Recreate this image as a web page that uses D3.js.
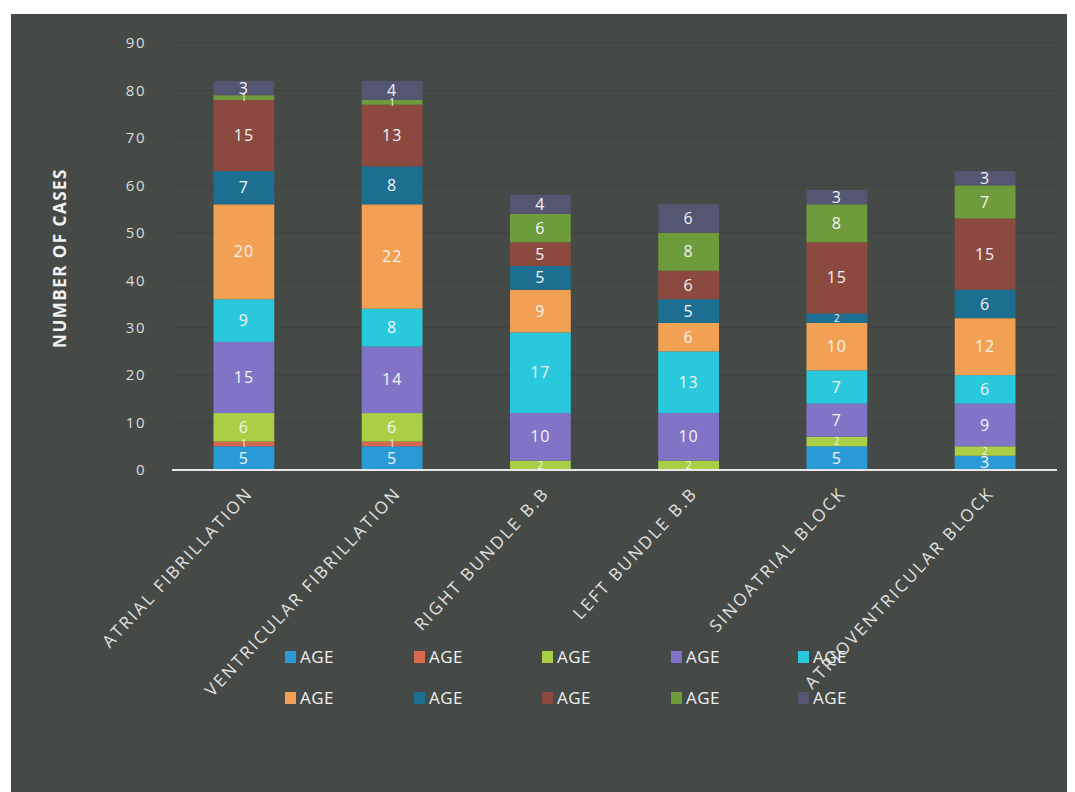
<!DOCTYPE html>
<html>
<head>
<meta charset="utf-8">
<script src="https://cdn.jsdelivr.net/npm/d3@7"></script>
<style>
  html, body { margin: 0; padding: 0; background: #ffffff; }
  svg { display: block; }
  text { font-family: "Open Sans", "DejaVu Sans", sans-serif; }
</style>
</head>
<body>
<svg id="chart" width="1075" height="792"></svg>
<script>
// ---- data ----
const categories = ["ATRIAL FIBRILLATION", "VENTRICULAR FIBRILLATION", "RIGHT BUNDLE B.B", "LEFT BUNDLE B.B", "SINOATRIAL BLOCK", "ATRIOVENTRICULAR BLOCK"];
const seriesNames = ["AGE", "AGE", "AGE", "AGE", "AGE", "AGE", "AGE", "AGE", "AGE", "AGE"];
const age1  = [5, 5, 0, 0, 5, 3];
const age2  = [1, 1, 0, 0, 0, 0];
const age3  = [6, 6, 2, 2, 2, 2];
const age4  = [15, 14, 10, 10, 7, 9];
const age5  = [9, 8, 17, 13, 7, 6];
const age6  = [20, 22, 9, 6, 10, 12];
const age7  = [7, 8, 5, 5, 2, 6];
const age8  = [15, 13, 5, 6, 15, 15];
const age9  = [1, 1, 6, 8, 8, 7];
const age10 = [3, 4, 4, 6, 3, 3];
const yTicks = [0, 10, 20, 30, 40, 50, 60, 70, 80, 90];
const colors = ["#2a9ad6", "#d8684f", "#a8cf45", "#8174c6", "#2ac8dc", "#f2a053", "#1c6f90", "#8c4940", "#6e9b3c", "#545672"];

const seriesValues = [age1, age2, age3, age4, age5, age6, age7, age8, age9, age10];
const keys = seriesValues.map((_, i) => "s" + i);
const table = categories.map((c, ci) => {
  const row = { cat: c };
  seriesValues.forEach((arr, si) => { row[keys[si]] = arr[ci]; });
  return row;
});

const svg = d3.select("#chart");

// panel background
svg.append("rect").attr("x", 11).attr("y", 14).attr("width", 1056).attr("height", 778)
  .attr("fill", "#464a47");

const x = d3.scaleBand().domain(categories).range([172, 1057]).paddingInner(0.59).paddingOuter(0.28);
const y = d3.scaleLinear().domain([0, 90]).range([470, 43]);

// gridlines
svg.append("g").selectAll("line").data(yTicks.filter(t => t > 0)).join("line")
  .attr("x1", 172).attr("x2", 1057)
  .attr("y1", d => y(d)).attr("y2", d => y(d))
  .attr("stroke", "#3f4240").attr("stroke-width", 1);

// y axis labels
const yAxis = d3.axisLeft(y).tickValues(yTicks).tickSize(0).tickPadding(0);
const yg = svg.append("g").attr("transform", "translate(146,0)").call(yAxis);
yg.select(".domain").remove();
yg.selectAll("text").attr("fill", "#dcdcdc").attr("font-size", 15)
  .attr("letter-spacing", "1.5px").attr("dy", "0.32em");

// axis title
svg.append("text").attr("transform", "translate(66,258) rotate(-90)")
  .attr("text-anchor", "middle").attr("fill", "#f2f2f2").attr("font-size", 17)
  .attr("letter-spacing", "1.5px")
  .attr("font-weight", "bold").text("NUMBER  OF CASES");

// stacked bars
const stack = d3.stack().keys(keys)(table);
const layers = svg.append("g").selectAll("g").data(stack).join("g")
  .attr("fill", (d, i) => colors[i]);
layers.selectAll("rect").data(d => d).join("rect")
  .attr("x", d => x(d.data.cat))
  .attr("width", x.bandwidth())
  .attr("y", d => y(d[1]))
  .attr("height", d => y(d[0]) - y(d[1]));

// segment labels
const lab = svg.append("g");
stack.forEach((layer, si) => {
  layer.forEach(d => {
    const v = d[1] - d[0];
    if (v <= 0) return;
    const small = v <= 2;
    lab.append("text")
      .attr("x", x(d.data.cat) + x.bandwidth() / 2)
      .attr("y", y((d[0] + d[1]) / 2))
      .attr("dy", "0.35em")
      .attr("text-anchor", "middle")
      .attr("fill", "#f4f4f4")
      .attr("font-size", small ? 10 : 16)
      .attr("letter-spacing", small ? "0px" : "1px")
      .text(v);
  });
});

// baseline
svg.append("line").attr("x1", 172).attr("x2", 1057).attr("y1", y(0)).attr("y2", y(0))
  .attr("stroke", "#e8e8e8").attr("stroke-width", 2);

// x axis labels
const xAxis = d3.axisBottom(x).tickSize(0).tickPadding(0);
const xg = svg.append("g").attr("transform", "translate(0," + y(0) + ")").call(xAxis);
xg.select(".domain").remove();
xg.selectAll("text")
  .attr("fill", "#e2e2e2").attr("font-size", 17)
  .attr("letter-spacing", "2.3px")
  .attr("text-anchor", "end")
  .attr("dy", null).attr("y", 0)
  .attr("transform", "translate(10,24) rotate(-47)");

// legend
const legX = [285, 414, 542, 671, 798];
const legY = [657, 698];
const leg = svg.append("g");
seriesNames.forEach((name, i) => {
  const gx = legX[i % 5], gy = legY[Math.floor(i / 5)];
  leg.append("rect").attr("x", gx).attr("y", gy - 6).attr("width", 11).attr("height", 12)
    .attr("fill", colors[i]);
  leg.append("text").attr("x", gx + 15).attr("y", gy).attr("dy", "0.35em")
    .attr("fill", "#f0f0f0").attr("font-size", 17).attr("letter-spacing", "0.5px").text(name);
});
</script>
</body>
</html>
